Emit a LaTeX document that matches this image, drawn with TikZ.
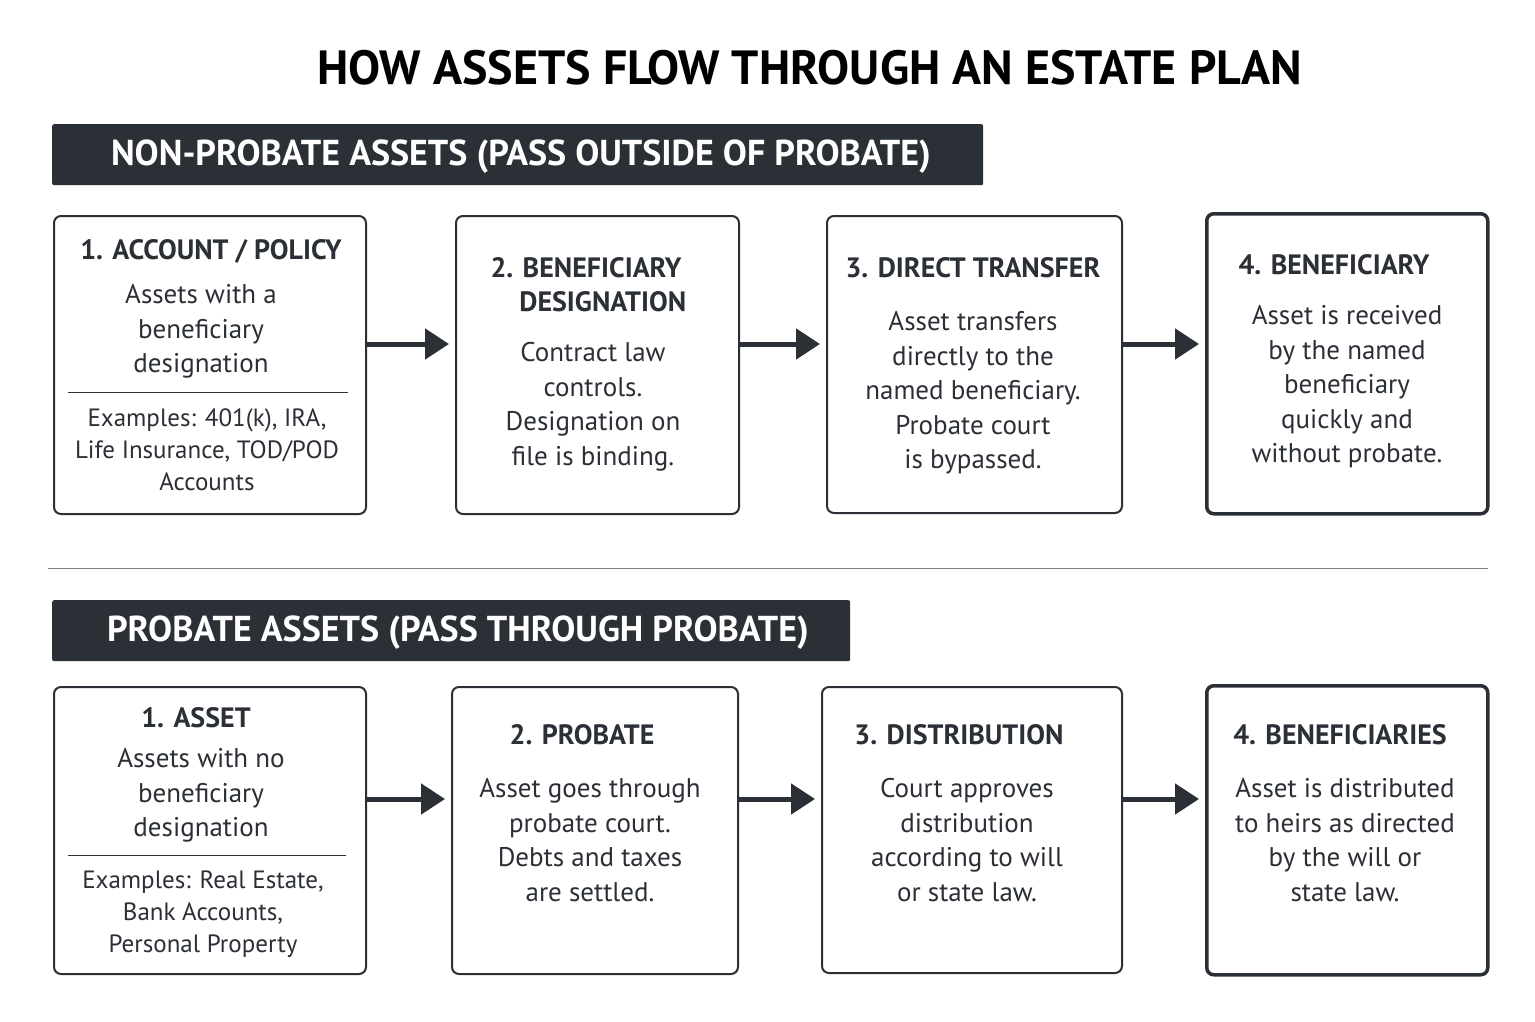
\documentclass[tikz,border=0pt]{standalone}
\usepackage{fontspec}
\setmainfont{PT Sans}
\usetikzlibrary{arrows.meta}
\definecolor{dk}{HTML}{2B2F36}
\begin{document}
\begin{tikzpicture}[x=1pt,y=-1pt,
  box/.style={draw=dk,line width=2pt,rounded corners=7pt,anchor=north west,inner sep=0},
  bbox/.style={box,line width=3.5pt},
  hdr/.style={fill=dk,rounded corners=2pt,anchor=north west,inner sep=0},
  hdrt/.style={text=white,font=\fontsize{36}{40}\selectfont\bfseries},
  ttl/.style={font=\fontsize{28}{34}\selectfont\bfseries,text=dk,align=center,anchor=north},
  bd/.style={font=\fontsize{27}{34.5}\selectfont,text=dk,align=center,anchor=north},
  ex/.style={font=\fontsize{25}{32}\selectfont,text=dk,align=center,anchor=north},
  arr/.style={draw=dk,line width=5pt,-{Triangle[length=24pt,width=30pt]},shorten >=6pt,shorten <=0pt}]
\fill[white] (0,0) rectangle (1535,1022);
\useasboundingbox (0,0) rectangle (1535,1022);
\node[font=\fontsize{48}{52}\selectfont\bfseries,text=black] (title) at (810,68) {HOW ASSETS FLOW THROUGH AN ESTATE PLAN};
\node[hdr,minimum width=931,minimum height=61] (h1) at (52,124) {};
\node[hdrt] (h1t) at (521,157) {NON-PROBATE ASSETS (PASS OUTSIDE OF PROBATE)};
\node[hdr,minimum width=798,minimum height=61] (h2) at (52,600) {};
\node[hdrt] (h2t) at (458,633) {PROBATE ASSETS (PASS THROUGH PROBATE)};
\draw[gray,line width=1pt] (48,568) coordinate (s1) -- (1488,568) coordinate (s2);
% top row
\node[box,minimum width=312,minimum height=298] (a1) at (53,215) {};
\node[box,minimum width=283,minimum height=298] (a2) at (455,215) {};
\node[box,minimum width=295,minimum height=297] (a3) at (826,215) {};
\node[bbox,minimum width=281,minimum height=300] (a4) at (1205,212) {};
\node[ttl] at (211,236) {1. ACCOUNT / POLICY};
\node[bd] at (201,281) {Assets with a\\beneficiary\\designation};
\draw[dk,line width=1pt] (68,392) coordinate (d1) -- (348,392) coordinate (d2);
\node[ex] at (207,405) {Examples: 401(k), IRA,\\Life Insurance, TOD/POD\\Accounts};
\node[ttl] at (586,254) {2. BENEFICIARY\\\hspace*{1.2em}DESIGNATION};
\node[bd] at (593,339) {Contract law\\controls.\\Designation on\\file is binding.};
\node[ttl] at (973,254) {3. DIRECT TRANSFER};
\node[bd] at (973,308) {Asset transfers\\directly to the\\named beneficiary.\\Probate court\\is bypassed.};
\node[ttl] at (1334,251) {4. BENEFICIARY};
\node[bd] at (1347,302) {Asset is received\\by the named\\beneficiary\\quickly and\\without probate.};
% bottom row
\node[box,minimum width=312,minimum height=287] (b1) at (53,686) {};
\node[box,minimum width=286,minimum height=287] (b2) at (451,686) {};
\node[box,minimum width=300,minimum height=286] (b3) at (821,686) {};
\node[bbox,minimum width=281,minimum height=289] (b4) at (1205,684) {};
\node[ttl] at (196,704) {1. ASSET};
\node[bd] at (201,745) {Assets with no\\beneficiary\\designation};
\draw[dk,line width=1pt] (68,855) coordinate (e1) -- (346,855) coordinate (e2);
\node[ex] at (203,867) {Examples: Real Estate,\\Bank Accounts,\\Personal Property};
\node[ttl] at (582,721) {2. PROBATE};
\node[bd] at (590,775) {Asset goes through\\probate court.\\Debts and taxes\\are settled.};
\node[ttl] at (959,721) {3. DISTRIBUTION};
\node[bd] at (967,775) {Court approves\\distribution\\according to will\\or state law.};
\node[ttl] at (1340,721) {4. BENEFICIARIES};
\node[bd] at (1345,775) {Asset is distributed\\to heirs as directed\\by the will or\\state law.};
% arrows
\foreach \p/\q in {a1/a2,a2/a3,a3/a4}{\draw[arr] (\p.east|-0,344) -- (\q.west|-0,344);}
\foreach \p/\q in {b1/b2,b2/b3,b3/b4}{\draw[arr] (\p.east|-0,799) -- (\q.west|-0,799);}
\end{tikzpicture}
\end{document}
